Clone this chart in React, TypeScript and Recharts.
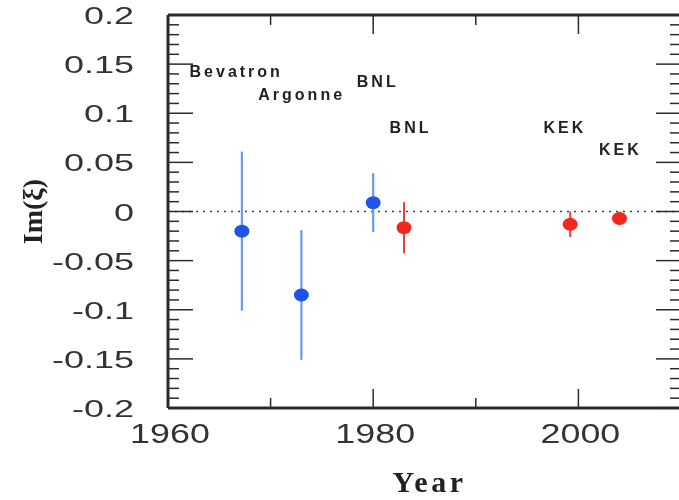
import { ScatterChart, Scatter, XAxis, YAxis, ErrorBar, ReferenceLine } from 'recharts'

// experiments measured with the earlier (blue) and later (red) method
const blueYears = [1967.2, 1973.0, 1980.0]
const blueValues = [-0.02, -0.085, 0.009]
const blueErrors = [0.081, 0.066, 0.03]

const redYears = [1983.0, 1999.2, 2004.0]
const redValues = [-0.0165, -0.013, -0.007]
const redErrors = [0.026, 0.013, 0.007]

// lab names, placed where they sit in the figure
const labNames = ['Bevatron', 'Argonne', 'BNL', 'BNL', 'KEK', 'KEK']
const labYears = [1962.1, 1968.8, 1978.4, 1981.6, 1996.6, 2002.0]
const labValues = [0.137, 0.113, 0.127, 0.08, 0.08, 0.0575]

const xTicks = [1960, 1970, 1980, 1990, 2000, 2010]
const xLabels = [1960, 1980, 2000]
const yLabels = [0.2, 0.15, 0.1, 0.05, 0, -0.05, -0.1, -0.15, -0.2]
// minor ticks every 0.01
const yTicks = Array.from({ length: 41 }, (_, i) => Math.round((-0.2 + i * 0.01) * 100) / 100)

const blueData = blueYears.map((year, i) => ({ year, value: blueValues[i], err: blueErrors[i] }))
const redData = redYears.map((year, i) => ({ year, value: redValues[i], err: redErrors[i] }))
const labData = labNames.map((name, i) => ({ name, year: labYears[i], value: labValues[i] }))

const ink = '#2b2b2b'
const isMajorY = (v: number) => yLabels.includes(v)

function BottomTick({ x, y, payload }: any) {
  const v = payload.value
  const big = xLabels.includes(v)
  return (
    <g>
      <line x1={x} y1={y} x2={x} y2={y - (big ? 19 : 10)} stroke={ink} strokeWidth={1.5} />
      {big && (
        <text
          transform={`translate(${x + 2},${y + 35}) scale(1.33,1)`}
          textAnchor="middle"
          fontFamily="'Liberation Sans', Arial, sans-serif"
          fontSize={27}
          fill="#333"
        >
          {v}
        </text>
      )}
    </g>
  )
}

function TopTick({ x, y, payload }: any) {
  const big = xLabels.includes(payload.value)
  return <line x1={x} y1={y} x2={x} y2={y + (big ? 19 : 10)} stroke={ink} strokeWidth={1.5} />
}

function LeftTick({ x, y, payload }: any) {
  const v = payload.value
  const big = isMajorY(v)
  return (
    <g>
      <line x1={x} y1={y} x2={x + (big ? 25 : 11)} y2={y} stroke={ink} strokeWidth={1.5} />
      {big && (
        <text
          transform={`translate(${x - 34},${y + 9}) scale(1.5,1)`}
          textAnchor="end"
          fontFamily="'Liberation Sans', Arial, sans-serif"
          fontSize={24}
          fill="#333"
        >
          {String(v)}
        </text>
      )}
    </g>
  )
}

function RightTick({ x, y, payload }: any) {
  const big = isMajorY(payload.value)
  return <line x1={x} y1={y} x2={x - (big ? 25 : 11)} y2={y} stroke={ink} strokeWidth={1.5} />
}

const Dot = (color: string) => (p: any) => (
  <ellipse cx={p.cx} cy={p.cy} rx={7.5} ry={6.5} fill={color} />
)

const LabText = (p: any) => (
  <text
    x={p.cx}
    y={p.cy}
    fontFamily="'Liberation Sans', Arial, sans-serif"
    fontWeight="bold"
    fontSize={16}
    letterSpacing={3}
    fill="#222"
  >
    {p.payload.name}
  </text>
)

export default function App() {
  return (
    <div style={{ position: 'fixed', left: 0, top: 0, width: 679, height: 500, overflow: 'hidden' }}>
      <ScatterChart width={710} height={500} margin={{ top: 14, right: 28, bottom: 32, left: 0 }}>
        <XAxis
          xAxisId="x"
          dataKey="year"
          type="number"
          domain={[1960, 2010]}
          allowDataOverflow
          ticks={xTicks}
          interval={0}
          height={60}
          tickSize={0}
          tickMargin={0}
          tickLine={false}
          axisLine={{ stroke: ink, strokeWidth: 3 }}
          tick={BottomTick}
          label={({ viewBox }: any) => (
            <text
              x={viewBox.x + viewBox.width / 2 + 5}
              y={viewBox.y + 84}
              textAnchor="middle"
              fontFamily="'Liberation Serif', 'Times New Roman', serif"
              fontWeight="bold"
              fontSize={30}
              letterSpacing={3.5}
              fill="#222"
            >
              Year
            </text>
          )}
        />
        <XAxis
          xAxisId="top"
          orientation="top"
          dataKey="year"
          type="number"
          domain={[1960, 2010]}
          allowDataOverflow
          ticks={xTicks}
          interval={0}
          height={1}
          tickSize={0}
          tickMargin={0}
          tickLine={false}
          axisLine={{ stroke: ink, strokeWidth: 3 }}
          tick={TopTick}
        />
        <YAxis
          yAxisId="y"
          dataKey="value"
          type="number"
          domain={[-0.2, 0.2]}
          allowDataOverflow
          ticks={yTicks}
          interval={0}
          width={168}
          tickSize={0}
          tickMargin={0}
          tickLine={false}
          axisLine={{ stroke: ink, strokeWidth: 3 }}
          tick={LeftTick}
          label={({ viewBox }: any) => {
            const cx = viewBox.x + 42
            const cy = viewBox.y + viewBox.height / 2
            return (
              <text
                x={cx}
                y={cy}
                transform={`rotate(-90, ${cx}, ${cy})`}
                textAnchor="middle"
                fontFamily="'Liberation Serif', 'Times New Roman', serif"
                fontWeight="bold"
                fontSize={28}
                fill="#222"
              >
                Im(ξ)
              </text>
            )
          }}
        />
        <YAxis
          yAxisId="right"
          orientation="right"
          dataKey="value"
          type="number"
          domain={[-0.2, 0.2]}
          allowDataOverflow
          ticks={yTicks}
          interval={0}
          width={1}
          tickSize={0}
          tickMargin={0}
          tickLine={false}
          axisLine={false}
          tick={RightTick}
        />
        <ReferenceLine
          xAxisId="x"
          yAxisId="y"
          y={0}
          stroke="#444"
          strokeWidth={1.6}
          strokeDasharray="2 5"
        />
        <Scatter
          xAxisId="top"
          yAxisId="right"
          data={labData}
          dataKey="value"
          shape={LabText}
          isAnimationActive={false}
        />
        <Scatter
          xAxisId="x"
          yAxisId="y"
          data={blueData}
          dataKey="value"
          shape={Dot('#1f55e6')}
          isAnimationActive={false}
        >
          <ErrorBar dataKey="err" direction="y" width={0} stroke="#6b9be0" strokeWidth={2.2} isAnimationActive={false} />
        </Scatter>
        <Scatter
          xAxisId="x"
          yAxisId="y"
          data={redData}
          dataKey="value"
          shape={Dot('#f0281e')}
          isAnimationActive={false}
        >
          <ErrorBar dataKey="err" direction="y" width={0} stroke="#e2453c" strokeWidth={2} isAnimationActive={false} />
        </Scatter>
      </ScatterChart>
    </div>
  )
}
